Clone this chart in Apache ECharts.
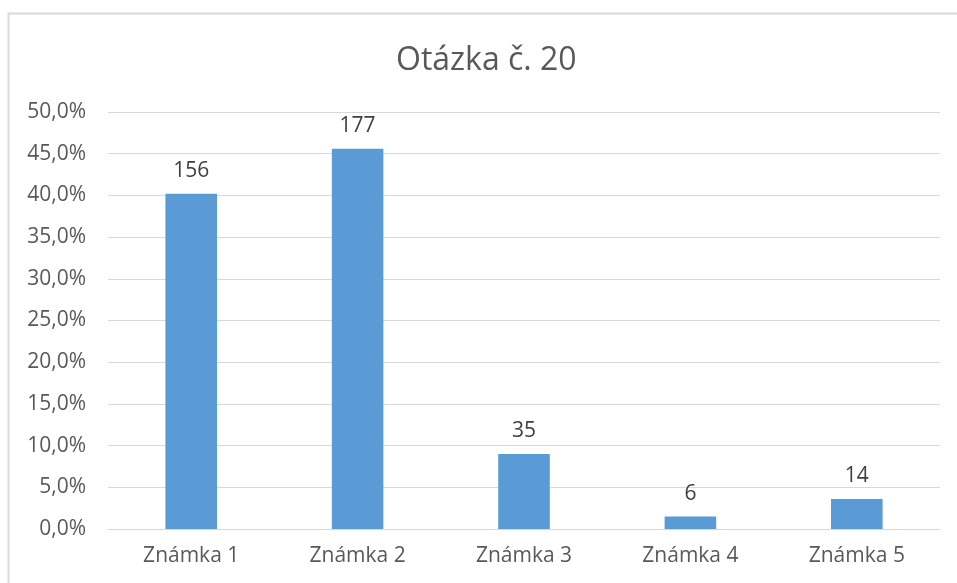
<!DOCTYPE html>
<html>
<head>
<meta charset="utf-8">
<script src="https://cdn.jsdelivr.net/npm/echarts@6/dist/echarts.min.js"></script>
<style>
  html, body { margin: 0; padding: 0; background: #fff; }
  #chart { width: 957px; height: 583px; }
</style>
</head>
<body>
<div id="chart"></div>
<script>
var categories = ["Známka 1", "Známka 2", "Známka 3", "Známka 4", "Známka 5"];
var percents = [40.2, 45.6, 9.0, 1.5, 3.6];
var counts = [156, 177, 35, 6, 14];
var yTicks = { min: 0, max: 50, interval: 5 };

var fontFamily = "'Open Sans', 'Noto Sans', sans-serif";
var chartDom = echarts.init(document.getElementById("chart"));

var option = {
  textStyle: { fontFamily: fontFamily },
  title: {
    text: "Otázka č. 20",
    left: 396,
    top: 45,
    padding: 0,
    textStyle: {
      fontFamily: fontFamily,
      fontSize: 32,
      fontWeight: "normal",
      color: "#595959",
    },
  },
  graphic: [
    {
      type: "rect",
      shape: { x: 8.5, y: 13.5, width: 1200, height: 1000 },
      style: { fill: "none", stroke: "#d9d9d9", lineWidth: 2 },
      silent: true,
    },
  ],
  grid: { left: 108, right: 17, top: 112, bottom: 54, containLabel: false },
  xAxis: {
    type: "category",
    data: categories,
    axisTick: { show: false },
    axisLine: { lineStyle: { color: "#d9d9d9", width: 1 } },
    axisLabel: {
      color: "#595959",
      fontSize: 21,
      margin: 17,
      fontFamily: fontFamily,
    },
  },
  yAxis: {
    type: "value",
    min: yTicks.min,
    max: yTicks.max,
    interval: yTicks.interval,
    axisLine: { show: false },
    axisTick: { show: false },
    splitLine: { lineStyle: { color: "#d9d9d9", width: 1 } },
    axisLabel: {
      color: "#595959",
      fontSize: 21,
      margin: 22,
      fontFamily: fontFamily,
      formatter: function (v) {
        return v.toFixed(1).replace(".", ",") + "%";
      },
    },
  },
  series: [
    {
      type: "bar",
      data: percents,
      barWidth: "31%",
      itemStyle: { color: "#5b9bd5" },
      label: {
        show: true,
        position: "top",
        distance: 12,
        color: "#404040",
        fontSize: 21,
        fontFamily: fontFamily,
        formatter: function (p) {
          return counts[p.dataIndex];
        },
      },
    },
  ],
};

chartDom.setOption(option);
</script>
</body>
</html>
